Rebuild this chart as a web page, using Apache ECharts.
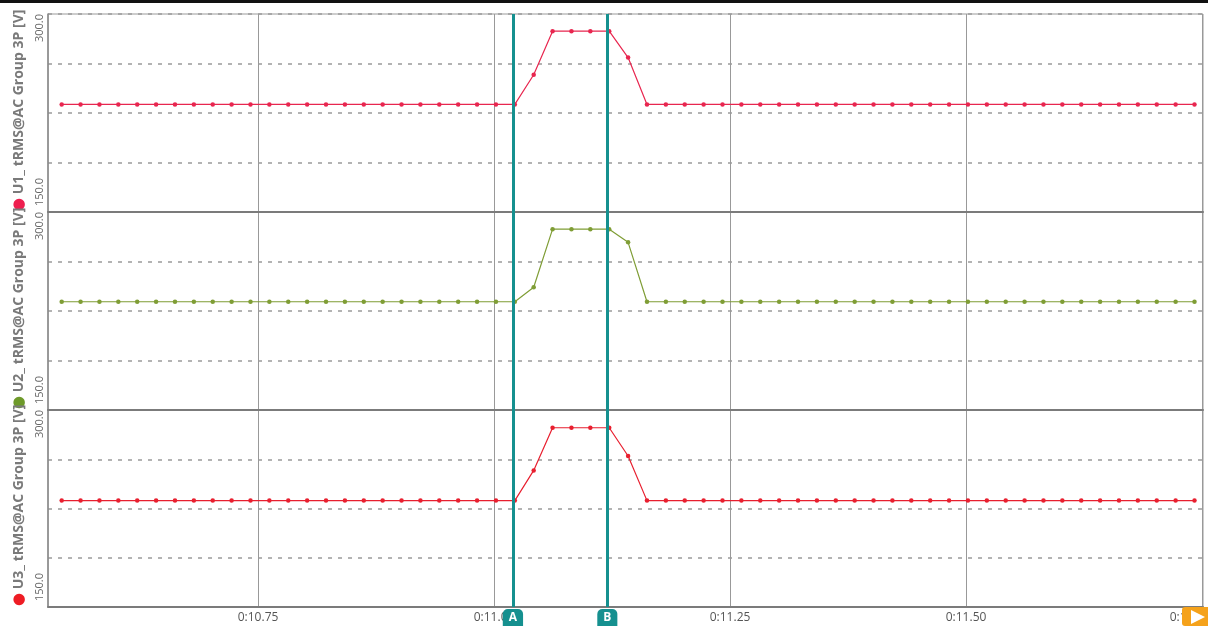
<!DOCTYPE html>
<html><head><meta charset="utf-8">
<script src="https://cdn.jsdelivr.net/npm/echarts@6/dist/echarts.min.js"></script>
<style>html,body{margin:0;padding:0;background:#fff}#c{width:1208px;height:626px}</style>
</head><body><div id="c"></div>
<script>
// sample times [s]
const times = [10.542,10.562,10.582,10.602,10.622,10.642,10.662,10.682,10.702,10.722,
  10.742,10.762,10.782,10.802,10.822,10.842,10.862,10.882,10.902,10.922,
  10.942,10.962,10.982,11.002,11.022,11.042,11.062,11.082,11.102,11.122,
  11.142,11.162,11.182,11.202,11.222,11.242,11.262,11.282,11.302,11.322,
  11.342,11.362,11.382,11.402,11.422,11.442,11.462,11.482,11.502,11.522,
  11.542,11.562,11.582,11.602,11.622,11.642,11.662,11.682,11.702,11.722,11.742];
const u1 = [231.5,231.5,231.5,231.5,231.5,231.5,231.5,231.5,231.5,231.5,
  231.5,231.5,231.5,231.5,231.5,231.5,231.5,231.5,231.5,231.5,
  231.5,231.5,231.5,231.5,231.5,254,287,287,287,287,
  267,231.5,231.5,231.5,231.5,231.5,231.5,231.5,231.5,231.5,
  231.5,231.5,231.5,231.5,231.5,231.5,231.5,231.5,231.5,231.5,
  231.5,231.5,231.5,231.5,231.5,231.5,231.5,231.5,231.5,231.5,231.5];
const u2 = [232,232,232,232,232,232,232,232,232,232,
  232,232,232,232,232,232,232,232,232,232,
  232,232,232,232,232,243,287,287,287,287,
  277,232,232,232,232,232,232,232,232,232,
  232,232,232,232,232,232,232,232,232,232,
  232,232,232,232,232,232,232,232,232,232,232];
const u3 = [231,231,231,231,231,231,231,231,231,231,
  231,231,231,231,231,231,231,231,231,231,
  231,231,231,231,231,254,286.5,286.5,286.5,286.5,
  265,231,231,231,231,231,231,231,231,231,
  231,231,231,231,231,231,231,231,231,231,
  231,231,231,231,231,231,231,231,231,231,231];
const seriesNames = ['U1_ tRMS@AC Group 3P [V]', 'U2_ tRMS@AC Group 3P [V]', 'U3_ tRMS@AC Group 3P [V]'];
const seriesValues = [u1, u2, u3];
const seriesColors = ['#e8264f', '#7f9d35', '#e81f2f'];
const dotColors = ['#ee1f4f', '#6e9a2a', '#ee1c24'];
const xTicks = [10.75, 11.0, 11.25, 11.5, 11.75];
const yMin = 150, yMax = 300, yStep = 37.5;
const xMin = 10.5275, xMax = 11.751;
const cursorTimes = [11.022, 11.122];
const cursorNames = ['A', 'B'];

const gridTops = [14, 212, 410];
const gridHeights = [198, 198, 197];
const grids = [], xAxes = [], yAxes = [], series = [];
for (let i = 0; i < 3; i++) {
  grids.push({left: 48, right: 5, top: gridTops[i], height: gridHeights[i], show: true,
    borderColor: '#9a9a9a', borderWidth: 1, outerBoundsMode: 'none'});
  xAxes.push({type: 'value', gridIndex: i, min: xMin, max: xMax, position: 'bottom',
    axisLine: {show: true, onZero: false, lineStyle: {color: '#7b7b7b', width: 2}},
    axisTick: {show: false, customValues: xTicks},
    axisLabel: {show: i === 2, customValues: xTicks, showMaxLabel: true, hideOverlap: false,
      formatter: v => v === xTicks[xTicks.length - 1] ? '{r|0:' + v.toFixed(2) + '}' : '0:' + v.toFixed(2),
      rich: {r: {color: '#555', fontSize: 12, fontFamily: 'Open Sans', padding: [0, 24, 0, 0]}},
      color: '#555', fontSize: 12, margin: 5, fontFamily: 'Open Sans'},
    splitLine: {show: true, lineStyle: {color: '#999', width: 1, type: 'solid'}}});
  yAxes.push({type: 'value', gridIndex: i, min: yMin, max: yMax, interval: yStep, position: 'left',
    name: '{d|●} ' + seriesNames[i], nameLocation: 'start', nameRotate: 90, nameGap: -1,
    nameTextStyle: {align: 'left', verticalAlign: 'bottom', padding: [0, 0, 21, 0], color: '#7a7a7a',
      fontSize: 14, fontWeight: 'bold', fontFamily: 'Open Sans',
      rich: {d: {color: dotColors[i], fontSize: 15, fontFamily: 'DejaVu Sans'}}},
    axisLine: {show: true, onZero: false, lineStyle: {color: '#888', width: 1.5}},
    axisTick: {show: false},
    axisLabel: {rotate: 90, formatter: v => v === yMax ? yMax.toFixed(1) : '', align: 'right',
      verticalAlign: 'bottom', margin: 3, color: '#666', fontSize: 11, fontFamily: 'Open Sans'},
    splitLine: {show: true, lineStyle: {color: '#9a9a9a', width: 1.5, type: [4, 6]}}});
  yAxes.push({type: 'value', gridIndex: i, min: yMin, max: yMax, interval: yStep, position: 'left',
    axisLine: {show: false}, axisTick: {show: false}, splitLine: {show: false},
    axisLabel: {rotate: 90, formatter: v => v === yMin ? yMin.toFixed(1) : '', align: 'left',
      verticalAlign: 'bottom', margin: 3, color: '#666', fontSize: 11, fontFamily: 'Open Sans',
      padding: [0, 0, 0, 6]}});
  series.push({type: 'line', xAxisIndex: i, yAxisIndex: i * 2, name: seriesNames[i],
    data: times.map((t, j) => [t, seriesValues[i][j]]),
    symbol: 'circle', symbolSize: 4.5, showSymbol: true,
    lineStyle: {color: seriesColors[i], width: 1.2},
    itemStyle: {color: seriesColors[i]},
    z: 3,
    markLine: {silent: true, symbol: ['none', 'none'], animation: false, z: 10,
      lineStyle: {color: '#15908f', width: 3, type: 'solid'},
      label: i === 2 ? {show: true, position: 'start', formatter: '{b}', color: '#fff',
        backgroundColor: '#15908f', borderRadius: [5, 5, 0, 0], padding: [3, 6, 5, 6],
        fontSize: 12, fontWeight: 'bold', fontFamily: 'Open Sans', distance: 2} : {show: false},
      data: cursorTimes.map((t, k) => ({xAxis: t, name: cursorNames[k]}))}});
}

const chart = echarts.init(document.getElementById('c'), null, {renderer: 'canvas'});
chart.setOption({
  animation: false,
  backgroundColor: '#fff',
  grid: grids, xAxis: xAxes, yAxis: yAxes, series: series,
  graphic: [
    {type: 'rect', shape: {x: 0, y: 0, width: 1208, height: 3}, style: {fill: '#111'}, z: 100},
    {type: 'rect', shape: {x: 1182, y: 607, width: 26, height: 19, r: [3, 0, 0, 3]}, style: {fill: '#f5a21b'}, z: 100},
    {type: 'polygon', shape: {points: [[1191, 610], [1191, 624], [1205, 617]]}, style: {fill: '#fff'}, z: 101}
  ]
});
</script></body></html>
